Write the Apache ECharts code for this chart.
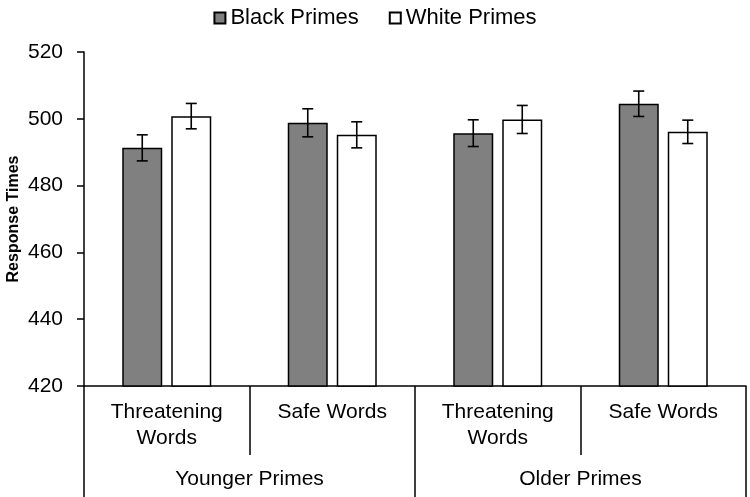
<!DOCTYPE html>
<html>
<head>
<meta charset="utf-8">
<script src="https://cdn.jsdelivr.net/npm/echarts@6/dist/echarts.min.js"></script>
<style>
  html, body { margin: 0; padding: 0; background: #fff; }
  #chart { width: 750px; height: 497px; }
</style>
</head>
<body>
<div id="chart"></div>
<script>
// data
const wordTypes = ['Threatening\nWords', 'Safe Words', 'Threatening\nWords', 'Safe Words'];
const primeAges = ['Younger Primes', 'Older Primes'];
const blackMeans = [491.3, 498.8, 495.7, 504.5];
const blackErrors = [3.9, 4.2, 4.0, 3.8];
const whiteMeans = [500.8, 495.2, 499.8, 496.1];
const whiteErrors = [3.8, 3.9, 4.2, 3.5];
const yTicks = [420, 440, 460, 480, 500, 520];

const font = 'Liberation Sans, Arial, sans-serif';
const barWidth = 40;
const barGapPx = 9;

function errData(means, errs) {
    return means.map((m, i) => [i, m + errs[i], m - errs[i]]);
}

function errRenderer(sign) {
    return function (params, api) {
        const hi = api.coord([api.value(0), api.value(1)]);
        const lo = api.coord([api.value(0), api.value(2)]);
        const x = hi[0] + sign * (barWidth + barGapPx) / 2;
        const half = 5.5;
        const style = { stroke: '#000', lineWidth: 1.6 };
        return {
            type: 'group',
            children: [
                { type: 'line', shape: { x1: x, y1: hi[1], x2: x, y2: lo[1] }, style: style },
                { type: 'line', shape: { x1: x - half, y1: hi[1], x2: x + half, y2: hi[1] }, style: style },
                { type: 'line', shape: { x1: x - half, y1: lo[1], x2: x + half, y2: lo[1] }, style: style }
            ]
        };
    };
}

const chart = echarts.init(document.getElementById('chart'));
chart.setOption({
    animation: false,
    textStyle: { fontFamily: font, color: '#000' },
    legend: {
        data: ['Black Primes', 'White Primes'],
        top: 2,
        left: 'center',
        icon: 'rect',
        itemWidth: 11,
        itemHeight: 11,
        itemGap: 30,
        itemTextGap: 6,
        textStyle: { fontFamily: font, fontSize: 22, color: '#000' }
    },
    grid: { left: 84, right: 4, top: 52, bottom: 111, outerBoundsMode: 'none', containLabel: false },
    xAxis: [
        {
            type: 'category',
            data: wordTypes,
            position: 'bottom',
            axisLine: { show: true, lineStyle: { color: '#000', width: 1.5 } },
            axisTick: { show: true, interval: 0, length: 69, lineStyle: { color: '#000', width: 1.5 } },
            axisLabel: { interval: 0, fontSize: 21, lineHeight: 26, margin: 13, color: '#000', fontFamily: font }
        },
        {
            type: 'category',
            data: primeAges,
            position: 'bottom',
            axisLine: { show: false },
            axisTick: { show: true, interval: 0, length: 111, lineStyle: { color: '#000', width: 1.5 } },
            axisLabel: { interval: 0, fontSize: 21, lineHeight: 26, margin: 80, color: '#000', fontFamily: font }
        }
    ],
    yAxis: {
        type: 'value',
        min: yTicks[0],
        max: yTicks[yTicks.length - 1],
        interval: 20,
        name: 'Response Times',
        nameLocation: 'middle',
        nameGap: 62,
        nameMoveOverlap: false,
        nameTextStyle: { fontFamily: font, fontSize: 16, fontWeight: 'bold', color: '#000' },
        axisLine: { show: true, lineStyle: { color: '#000', width: 1.5 } },
        axisTick: { show: true, length: 7, lineStyle: { color: '#000', width: 1.5 } },
        splitLine: { show: false },
        axisLabel: { fontSize: 21, margin: 21, color: '#000', fontFamily: font }
    },
    series: [
        {
            name: 'Black Primes',
            type: 'bar',
            data: blackMeans,
            barWidth: barWidth,
            barGap: (barGapPx / barWidth * 100) + '%',
            itemStyle: { color: '#808080', borderColor: '#000', borderWidth: 1.5 }
        },
        {
            name: 'White Primes',
            type: 'bar',
            data: whiteMeans,
            barWidth: barWidth,
            itemStyle: { color: '#fff', borderColor: '#000', borderWidth: 1.5 }
        },
        {
            type: 'custom',
            renderItem: errRenderer(-1),
            data: errData(blackMeans, blackErrors),
            encode: { x: 0, y: [1, 2] },
            z: 5
        },
        {
            type: 'custom',
            renderItem: errRenderer(1),
            data: errData(whiteMeans, whiteErrors),
            encode: { x: 0, y: [1, 2] },
            z: 5
        }
    ]
});
</script>
</body>
</html>
